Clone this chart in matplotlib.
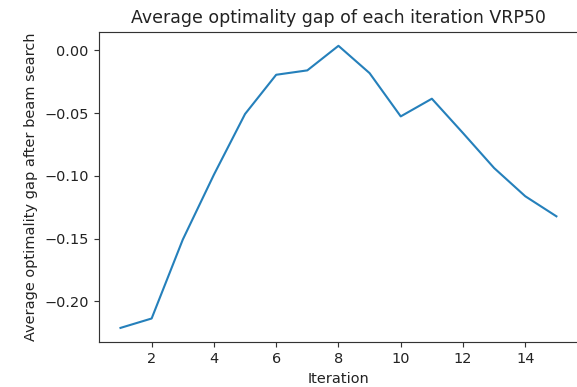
import matplotlib
matplotlib.use("Agg")
import matplotlib.pyplot as plt
from matplotlib.ticker import FuncFormatter

iterations = list(range(1, 16))
gap = [-0.2213, -0.2138, -0.1509, -0.0991, -0.0507, -0.0194, -0.0159, 0.0037,
       -0.0181, -0.0526, -0.0385, -0.0659, -0.0938, -0.1163, -0.1323]

DPI = 104
fig = plt.figure(figsize=(577 / DPI, 387 / DPI), dpi=DPI)
ax = fig.add_axes([98.7 / 577, 45 / 387, 479.5 / 577, 310.3 / 387])
ax.plot(iterations, gap, color="#2580bb", linewidth=1.45)
ax.set_title("Average optimality gap of each iteration VRP50", fontsize=12, color="#222222")
ax.set_xlabel("Iteration", color="#222222")
ax.set_ylabel("Average optimality gap after beam search", color="#222222")
ax.set_xticks([2, 4, 6, 8, 10, 12, 14])
ax.set_yticks([0.0, -0.05, -0.10, -0.15, -0.20])
ax.yaxis.set_major_formatter(FuncFormatter(
    lambda v, p: ("%.2f" % v).replace("-", "\u2212")))
ax.tick_params(colors="#333333", labelcolor="#222222")
for s in ax.spines.values():
    s.set_color("#333333")
# the reference image is cropped right at the right spine
ax.spines["right"].set_visible(False)
fig.savefig("out.png", dpi=DPI)
